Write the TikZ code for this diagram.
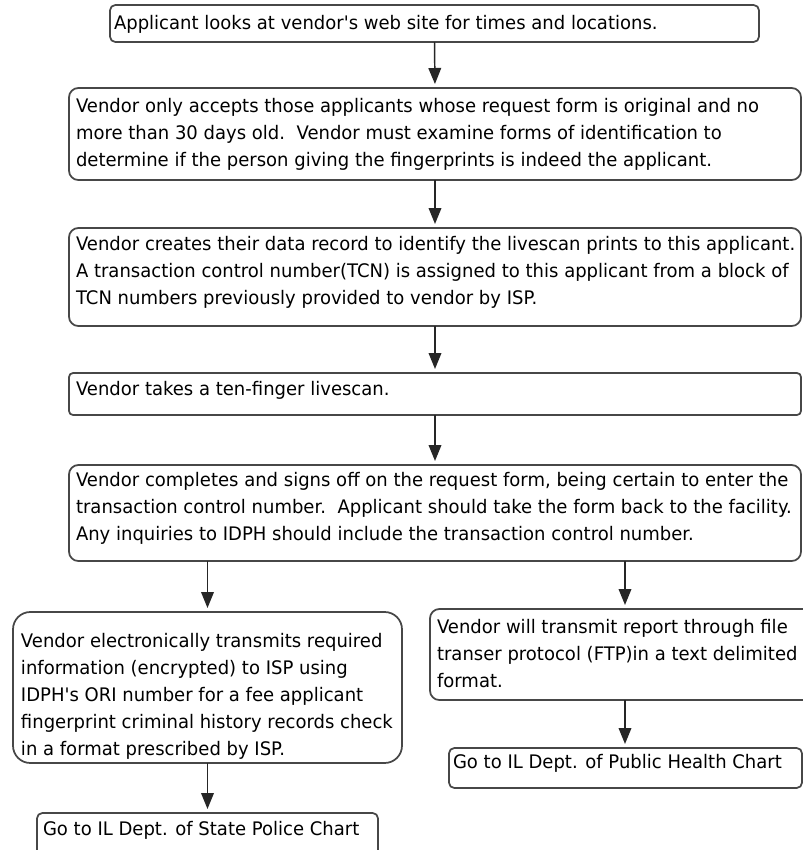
\documentclass[tikz,border=0pt]{standalone}
\usepackage{fontspec}
\setmainfont{DejaVu Sans}[FakeStretch=0.965, Ligatures=TeXOff]
\usetikzlibrary{arrows.meta}
\newcommand{\lines}[1]{\begin{tabular}[t]{@{}l@{}}#1\end{tabular}}
\begin{document}
\begin{tikzpicture}[x=0.75pt,y=-0.75pt,
  box/.style={draw=black!72, line width=1.3pt, rounded corners=#1, inner sep=0pt, outer sep=0pt, anchor=north west, fill=white},
  box/.default=6pt,
  txt/.style={inner sep=0pt, outer sep=0pt, anchor=base west, align=left, text=black, font=\fontsize{14pt}{20.25pt}\selectfont},
  arr/.style={line width=1.1pt, draw=black!85, -{Triangle[length=12pt,width=9.5pt]}, shorten >=3pt}]
\clip (0,0) rectangle (803,850);
\fill[white] (0,0) rectangle (803,850);
% boxes
\node[box=4pt, minimum width=486.75pt, minimum height=27.75pt] (b1) at (110,5) {};
\node[box=7pt, minimum width=549pt, minimum height=69pt] (b2) at (69,88) {};
\node[box=7pt, minimum width=549pt, minimum height=73.5pt] (b3) at (69,228) {};
\node[box=3pt, minimum width=549pt, minimum height=31.5pt] (b4) at (69,373) {};
\node[box=7pt, minimum width=549pt, minimum height=72pt] (b5) at (69,465) {};
\node[box=13pt, minimum width=291.75pt, minimum height=113.25pt] (b6) at (13,612) {};
\node[box=7pt, minimum width=292.5pt, minimum height=68.25pt] (b7) at (430,609) {};
\node[box=4pt, minimum width=255.75pt, minimum height=37.5pt] (b8) at (37,813) {};
\node[box=4pt, minimum width=264.75pt, minimum height=30pt] (b9) at (449,748) {};
% texts
\node[txt] (t1) at (114,29) {Applicant looks at vendor's web site for times and locations.};
\node[txt] (t2) at (76,112) {\lines{Vendor only accepts those applicants whose request form is original and no\\more than 30 days old.\ \ Vendor must examine forms of identification to\\determine if the person giving the fingerprints is indeed the applicant.}};
\node[txt] (t3) at (76,250) {\lines{Vendor creates their data record to identify the livescan prints to this applicant.\\A transaction control number(TCN) is assigned to this applicant from a block of\\TCN numbers previously provided to vendor by ISP.}};
\node[txt] (t4) at (76,395) {Vendor takes a ten-finger livescan.};
\node[txt] (t5) at (76,486) {\lines{Vendor completes and signs off on the request form, being certain to enter the\\transaction control number.\ \ Applicant should take the form back to the facility.\\Any inquiries to IDPH should include the transaction control number.}};
\node[txt] (t6) at (21,647) {\lines{Vendor electronically transmits required\\information (encrypted) to ISP using\\IDPH's ORI number for a fee applicant\\fingerprint criminal history records check\\in a format prescribed by ISP.}};
\node[txt] (t7) at (437,633) {\lines{Vendor will transmit report through file\\transer protocol (FTP)in a text delimited\\format.}};
\node[txt] (t8) at (43,835) {Go to IL Dept. of State Police Chart};
\node[txt] (t9) at (453,768) {Go to IL Dept. of Public Health Chart};
% arrows
\draw[arr] (b1.south) -- (b2.north);
\draw[arr] (b2.south) -- (b3.north);
\draw[arr] (b3.south) -- (b4.north);
\draw[arr] (b4.south) -- (b5.north);
\draw[arr] (b6.north |- b5.south) -- (b6.north);
\draw[arr] (b7.north |- b5.south) -- (b7.north);
\draw[arr] (b6.south) -- (b8.north);
\draw[arr] (b7.south) -- (b7.south |- b9.north);
\end{tikzpicture}
\end{document}
